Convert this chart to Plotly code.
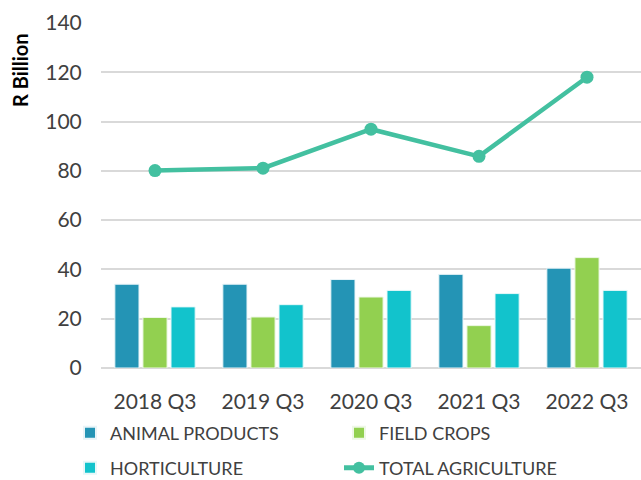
import plotly.graph_objects as go

categories = ["2018 Q3", "2019 Q3", "2020 Q3", "2021 Q3", "2022 Q3"]
animal_products = [34.0, 34.0, 35.9, 38.0, 40.5]
field_crops = [20.5, 20.7, 28.8, 17.2, 44.8]
horticulture = [24.8, 25.7, 31.5, 30.2, 31.5]
total_agriculture = [80.1, 81.1, 96.9, 85.9, 118.0]
y_ticks = [0, 20, 40, 60, 80, 100, 120, 140]

FONT = "Lato"
TXT = "#404040"
L, T, B, W, H = 101, 23, 112, 641, 480
PW, PH = W - L, H - T - B

fig = go.Figure()
fig.add_trace(go.Bar(name="ANIMAL PRODUCTS", x=categories, y=animal_products, legend="legend",
                     marker=dict(color="#2494b5", line=dict(color="#e8f4f8", width=1))))
fig.add_trace(go.Bar(name="FIELD CROPS", x=categories, y=field_crops, legend="legend",
                     marker=dict(color="#92d050", line=dict(color="#eef8e6", width=1))))
fig.add_trace(go.Bar(name="HORTICULTURE", x=categories, y=horticulture, legend="legend2",
                     marker=dict(color="#12c3cc", line=dict(color="#e6f8f9", width=1))))
fig.add_trace(go.Scatter(name="TOTAL AGRICULTURE", x=categories, y=total_agriculture,
                         mode="lines+markers", legend="legend2",
                         line=dict(color="#43c0a0", width=4.5),
                         marker=dict(color="#43c0a0", size=13)))

legend_common = dict(orientation="h", xanchor="left", yanchor="middle",
                     entrywidth=224, entrywidthmode="pixels",
                     font=dict(family=FONT, size=18, color=TXT),
                     itemsizing="constant", bgcolor="rgba(0,0,0,0)")

fig.update_layout(
    width=W, height=H,
    margin=dict(l=L, r=0, t=T, b=B, autoexpand=False),
    paper_bgcolor="white", plot_bgcolor="white",
    barmode="group", bargap=0.22, bargroupgap=0.14,
    font=dict(family=FONT, size=21, color=TXT),
    showlegend=True,
    legend=dict(x=(70 - L) / PW, y=(H - B - 433) / PH, **legend_common),
    legend2=dict(x=(70 - L) / PW, y=(H - B - 468) / PH, **legend_common),
    xaxis=dict(showgrid=False, showline=False, ticks="outside", ticklen=15, tickcolor="rgba(0,0,0,0)",
               tickfont=dict(size=21, color=TXT), automargin=False),
    yaxis=dict(range=[0, 140], tickvals=y_ticks, showgrid=True, gridcolor="#d9d9d9",
               gridwidth=1.5, zeroline=True, zerolinecolor="#d9d9d9", zerolinewidth=1.5,
               showline=False, ticks="outside", ticklen=14, tickcolor="rgba(0,0,0,0)",
               tickfont=dict(size=21, color=TXT), automargin=False),
    annotations=[dict(text="<b>R Billion</b>", xref="paper", yref="paper",
                      x=-(L - 20) / PW, y=(H - B - 70) / PH, xanchor="center", yanchor="middle",
                      textangle=-90, showarrow=False,
                      font=dict(family=FONT, size=20, color="#000000"))],
)

fig.write_html("out.html", config={"displayModeBar": False},
               post_script="document.body.style.margin='0';")
